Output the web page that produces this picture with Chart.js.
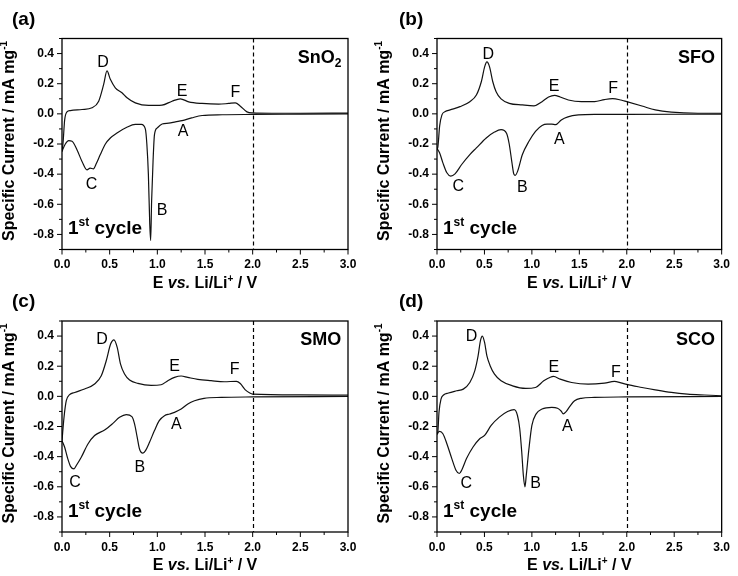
<!DOCTYPE html>
<html>
<head>
<meta charset="utf-8">
<script src="https://cdn.jsdelivr.net/npm/chart.js@4.4.1/dist/chart.umd.min.js"></script>
<style>
  html, body { margin: 0; padding: 0; background: #fff; }
  #wrap { position: relative; width: 738px; height: 576px; overflow: hidden; }
  canvas { position: absolute; }
</style>
</head>
<body>
<div id="wrap">
  <canvas id="pa" width="369" height="290" style="left:0;top:0"></canvas>
  <canvas id="pb" width="369" height="290" style="left:369px;top:0"></canvas>
  <canvas id="pc" width="369" height="286" style="left:0;top:290px"></canvas>
  <canvas id="pd" width="369" height="286" style="left:369px;top:290px"></canvas>
</div>
<script>
// tick labels (shared by all four panels)
var xTicks = [0, 0.5, 1.0, 1.5, 2.0, 2.5, 3.0];
var yTicks = [-0.8, -0.6, -0.4, -0.2, 0.0, 0.2, 0.4];
var cutoffE = 2.0;

// (a) SnO2 - potential (V) and current (mA/mg), each branch sorted by potential
var snoAnodicE = [0.0, 0.01, 0.028, 0.052, 0.087, 0.21, 0.315, 0.385, 0.437, 0.472, 0.507, 0.559, 0.629, 0.682, 0.769, 0.909, 1.049, 1.154, 1.241, 1.329, 1.469, 1.643, 1.748, 1.818, 1.871, 1.94, 2.0, 2.2, 2.5, 3.0];
var snoAnodicI = [-0.25, -0.2, -0.04, 0.013, 0.022, 0.029, 0.04, 0.084, 0.195, 0.285, 0.229, 0.173, 0.14, 0.107, 0.073, 0.056, 0.058, 0.084, 0.1, 0.08, 0.069, 0.064, 0.069, 0.073, 0.051, 0.013, 0.006, 0.004, 0.004, 0.005];
var snoCathodicE = [0.0, 0.007, 0.035, 0.07, 0.105, 0.157, 0.21, 0.262, 0.295, 0.33, 0.36, 0.402, 0.455, 0.507, 0.577, 0.68, 0.769, 0.832, 0.874, 0.89, 0.906, 0.92, 0.93, 0.94, 0.955, 0.97, 1.0, 1.05, 1.12, 1.19, 1.26, 1.36, 1.47, 1.68, 2.0, 2.5, 3.0];
var snoCathodicI = [-0.25, -0.238, -0.2, -0.178, -0.182, -0.238, -0.316, -0.372, -0.36, -0.365, -0.33, -0.27, -0.2, -0.16, -0.127, -0.089, -0.07, -0.07, -0.1, -0.2, -0.4, -0.72, -0.84, -0.58, -0.316, -0.138, -0.093, -0.067, -0.062, -0.053, -0.045, -0.027, -0.011, -0.006, -0.004, -0.002, 0.0];

// (b) SFO
var sfoAnodicE = [0.0, 0.007, 0.028, 0.052, 0.087, 0.138, 0.242, 0.346, 0.415, 0.467, 0.502, 0.526, 0.554, 0.588, 0.623, 0.675, 0.761, 0.9, 1.021, 1.107, 1.176, 1.239, 1.298, 1.384, 1.522, 1.661, 1.765, 1.851, 1.938, 2.0, 2.16, 2.3, 2.47, 2.75, 3.0];
var sfoAnodicI = [-0.23, -0.226, -0.08, -0.007, 0.015, 0.026, 0.048, 0.081, 0.125, 0.213, 0.312, 0.345, 0.312, 0.213, 0.147, 0.099, 0.07, 0.059, 0.053, 0.081, 0.112, 0.123, 0.112, 0.092, 0.081, 0.081, 0.095, 0.101, 0.092, 0.081, 0.052, 0.026, 0.011, 0.004, 0.004];
var sfoCathodicE = [0.0, 0.028, 0.062, 0.104, 0.145, 0.19, 0.26, 0.346, 0.415, 0.519, 0.606, 0.675, 0.734, 0.761, 0.789, 0.81, 0.824, 0.85, 0.9, 0.969, 1.038, 1.107, 1.16, 1.21, 1.25, 1.31, 1.38, 1.49, 1.66, 2.0, 3.0];
var sfoCathodicI = [-0.23, -0.26, -0.325, -0.391, -0.413, -0.398, -0.336, -0.27, -0.226, -0.16, -0.121, -0.105, -0.13, -0.2, -0.32, -0.4, -0.408, -0.38, -0.27, -0.182, -0.116, -0.077, -0.068, -0.068, -0.072, -0.04, -0.02, -0.007, -0.003, -0.003, -0.002];

// (c) SMO
var smoAnodicE = [0.0, 0.021, 0.045, 0.08, 0.133, 0.237, 0.342, 0.412, 0.464, 0.51, 0.545, 0.579, 0.614, 0.656, 0.709, 0.796, 0.935, 1.04, 1.11, 1.18, 1.25, 1.319, 1.424, 1.564, 1.703, 1.83, 1.87, 1.92, 1.97, 2.0, 2.5, 3.0];
var smoAnodicI = [-0.294, -0.14, -0.029, 0.011, 0.026, 0.049, 0.082, 0.137, 0.236, 0.347, 0.375, 0.325, 0.214, 0.148, 0.108, 0.086, 0.073, 0.077, 0.104, 0.126, 0.135, 0.126, 0.113, 0.104, 0.097, 0.1, 0.085, 0.045, 0.022, 0.015, 0.01, 0.008];
var smoCathodicE = [0.0, 0.028, 0.056, 0.091, 0.126, 0.15, 0.202, 0.272, 0.342, 0.447, 0.534, 0.604, 0.674, 0.733, 0.761, 0.789, 0.813, 0.848, 0.876, 0.918, 0.97, 1.02, 1.075, 1.13, 1.18, 1.25, 1.32, 1.39, 1.49, 1.67, 2.0, 3.0];
var smoCathodicI = [-0.294, -0.338, -0.404, -0.466, -0.481, -0.459, -0.404, -0.316, -0.26, -0.223, -0.179, -0.139, -0.121, -0.135, -0.183, -0.272, -0.349, -0.377, -0.36, -0.305, -0.227, -0.161, -0.128, -0.117, -0.106, -0.084, -0.05, -0.029, -0.013, -0.007, -0.004, -0.001];

// (d) SCO
var scoAnodicE = [0.0, 0.007, 0.021, 0.042, 0.069, 0.121, 0.208, 0.277, 0.346, 0.398, 0.433, 0.457, 0.478, 0.502, 0.526, 0.561, 0.606, 0.675, 0.796, 0.934, 1.038, 1.125, 1.194, 1.228, 1.298, 1.419, 1.592, 1.765, 1.869, 1.938, 2.0, 2.16, 2.3, 2.47, 2.64, 2.82, 3.0];
var scoAnodicI = [-0.25, -0.248, -0.105, -0.018, 0.009, 0.022, 0.037, 0.048, 0.092, 0.169, 0.268, 0.367, 0.4, 0.356, 0.268, 0.202, 0.147, 0.103, 0.07, 0.053, 0.059, 0.103, 0.127, 0.132, 0.114, 0.092, 0.081, 0.088, 0.099, 0.09, 0.079, 0.059, 0.043, 0.026, 0.015, 0.009, 0.004];
var scoCathodicE = [0.0, 0.007, 0.028, 0.062, 0.104, 0.156, 0.2, 0.235, 0.26, 0.311, 0.38, 0.45, 0.502, 0.571, 0.657, 0.744, 0.813, 0.848, 0.872, 0.893, 0.91, 0.927, 0.941, 0.969, 1.0, 1.045, 1.107, 1.21, 1.27, 1.31, 1.33, 1.356, 1.4, 1.45, 1.52, 1.66, 2.0, 3.0];
var scoCathodicI = [-0.25, -0.242, -0.233, -0.248, -0.314, -0.413, -0.49, -0.512, -0.49, -0.413, -0.336, -0.281, -0.259, -0.193, -0.138, -0.101, -0.088, -0.127, -0.215, -0.369, -0.523, -0.6, -0.523, -0.347, -0.193, -0.116, -0.084, -0.073, -0.079, -0.099, -0.116, -0.105, -0.066, -0.029, -0.013, -0.007, -0.004, -0.001];

var FONT = '"Liberation Sans", Arial, Helvetica, sans-serif';

function toPoints(xs, ys) {
    return xs.map(function (x, i) { return { x: x, y: ys[i] }; });
}

// draws a run of text pieces (for super/subscripts and italics)
function richText(ctx, parts, x, y, align) {
    var w = 0;
    parts.forEach(function (p) { ctx.font = p.f; w += ctx.measureText(p.t).width; });
    var cx = align === 'center' ? x - w / 2 : (align === 'right' ? x - w : x);
    ctx.textAlign = 'left';
    ctx.textBaseline = 'alphabetic';
    parts.forEach(function (p) {
        ctx.font = p.f;
        ctx.fillText(p.t, cx, y + (p.dy || 0));
        cx += ctx.measureText(p.t).width;
    });
}

var decorPlugin = {
    id: 'decor',
    afterDatasetsDraw: function (chart) {
        var ctx = chart.ctx, a = chart.chartArea;
        var xs = chart.scales.x, ys = chart.scales.y;
        var cfg = chart.options.plugins.decor;
        ctx.save();
        ctx.fillStyle = '#000';
        ctx.strokeStyle = '#000';

        // dashed cut-off line
        ctx.lineWidth = 1.2;
        ctx.setLineDash([4, 3]);
        var xc = Math.round(xs.getPixelForValue(cutoffE)) + 0.5;
        ctx.beginPath();
        ctx.moveTo(xc, a.top);
        ctx.lineTo(xc, a.bottom);
        ctx.stroke();
        ctx.setLineDash([]);

        // frame
        ctx.lineWidth = 1.3;
        ctx.strokeRect(a.left, a.top, a.right - a.left, a.bottom - a.top);

        // outward ticks, major and minor
        ctx.lineWidth = 1;
        ctx.beginPath();
        xTicks.forEach(function (v, i) {
            var px = xs.getPixelForValue(v);
            ctx.moveTo(px, a.bottom);
            ctx.lineTo(px, a.bottom + 5);
            if (i < xTicks.length - 1) {
                var pm = xs.getPixelForValue((v + xTicks[i + 1]) / 2);
                ctx.moveTo(pm, a.bottom);
                ctx.lineTo(pm, a.bottom + 3);
            }
        });
        var yMinor = [yTicks[0] - 0.1].concat(yTicks.map(function (v) { return v + 0.1; }));
        yTicks.forEach(function (v) {
            var py = ys.getPixelForValue(v);
            ctx.moveTo(a.left, py);
            ctx.lineTo(a.left - 5, py);
        });
        yMinor.forEach(function (v) {
            var py = ys.getPixelForValue(v);
            ctx.moveTo(a.left, py);
            ctx.lineTo(a.left - 3, py);
        });
        ctx.stroke();

        // peak letters
        ctx.font = '16px ' + FONT;
        ctx.textAlign = 'center';
        ctx.textBaseline = 'middle';
        cfg.peaks.forEach(function (p) {
            ctx.fillText(p[0], xs.getPixelForValue(p[1]), ys.getPixelForValue(p[2]));
        });

        // "1st cycle"
        richText(ctx, [
            { t: '1', f: 'bold 19px ' + FONT },
            { t: 'st', f: 'bold 12px ' + FONT, dy: -8 },
            { t: ' cycle', f: 'bold 19px ' + FONT }
        ], a.left + 6, ys.getPixelForValue(-0.8), 'left');

        // sample name
        richText(ctx, cfg.sample, xs.getPixelForValue(2.93), ys.getPixelForValue(0.34), 'right');

        // axis titles
        richText(ctx, [
            { t: 'E ', f: 'bold 16px ' + FONT },
            { t: 'vs.', f: 'italic bold 16px ' + FONT },
            { t: ' Li/Li', f: 'bold 16px ' + FONT },
            { t: '+', f: 'bold 10px ' + FONT, dy: -6 },
            { t: ' / V', f: 'bold 16px ' + FONT }
        ], (a.left + a.right) / 2, a.bottom + 38, 'center');

        ctx.save();
        ctx.translate(a.left - 48, (a.top + a.bottom) / 2 - 3);
        ctx.rotate(-Math.PI / 2);
        richText(ctx, [
            { t: 'Specific Current / mA mg', f: 'bold 16px ' + FONT },
            { t: '-1', f: 'bold 10px ' + FONT, dy: -7 }
        ], 0, 0, 'center');
        ctx.restore();

        // panel tag
        ctx.font = 'bold 19px ' + FONT;
        ctx.textAlign = 'left';
        ctx.textBaseline = 'alphabetic';
        ctx.fillText(cfg.tag, cfg.tagX, a.top - 14);
        ctx.restore();
    }
};

function makePanel(id, anodE, anodI, cathE, cathI, opts) {
    var canvas = document.getElementById(id);
    var tickFont = { family: FONT, size: 12, weight: 'bold' };
    return new Chart(canvas, {
        type: 'line',
        data: {
            datasets: [
                { data: toPoints(cathE, cathI) },
                { data: toPoints(anodE, anodI) }
            ]
        },
        options: {
            responsive: false,
            animation: false,
            layout: { padding: { left: 0, right: opts.padRight, top: opts.top, bottom: 0 } },
            elements: {
                point: { radius: 0 },
                line: { borderColor: '#111', borderWidth: 1.2, cubicInterpolationMode: 'monotone', fill: false }
            },
            plugins: {
                legend: { display: false },
                tooltip: { enabled: false },
                decor: opts
            },
            scales: {
                x: {
                    type: 'linear', min: 0, max: 3,
                    grid: { display: false, drawTicks: false },
                    border: { display: false },
                    ticks: { font: tickFont, color: '#000', padding: 8, maxRotation: 0,
                        callback: function (v) { return Number(v).toFixed(1); } },
                    afterBuildTicks: function (s) { s.ticks = xTicks.map(function (v) { return { value: v }; }); },
                    afterFit: function (s) { s.height = canvas.height - opts.bottom; }
                },
                y: {
                    min: -0.9, max: 0.5,
                    grid: { display: false, drawTicks: false },
                    border: { display: false },
                    ticks: { font: tickFont, color: '#000', padding: 8,
                        callback: function (v) { return Number(v).toFixed(1); } },
                    afterBuildTicks: function (s) { s.ticks = yTicks.map(function (v) { return { value: v }; }); },
                    afterFit: function (s) { s.width = opts.left; }
                }
            }
        },
        plugins: [decorPlugin]
    });
}

makePanel('pa', snoAnodicE, snoAnodicI, snoCathodicE, snoCathodicI, {
    left: 62, padRight: 21, top: 38.5, bottom: 249.5, tag: '(a)', tagX: 12,
    sample: [{ t: 'SnO', f: 'bold 18px ' + FONT }, { t: '2', f: 'bold 12px ' + FONT, dy: 4 }],
    peaks: [['D', 0.43, 0.34], ['E', 1.26, 0.15], ['F', 1.82, 0.14], ['A', 1.27, -0.12], ['B', 1.05, -0.64], ['C', 0.31, -0.47]]
});
makePanel('pb', sfoAnodicE, sfoAnodicI, sfoCathodicE, sfoCathodicI, {
    left: 68, padRight: 11, top: 38.5, bottom: 249.5, tag: '(b)', tagX: 30,
    sample: [{ t: 'SFO', f: 'bold 18px ' + FONT }],
    peaks: [['D', 0.54, 0.39], ['E', 1.235, 0.18], ['F', 1.855, 0.167], ['A', 1.29, -0.17], ['B', 0.9, -0.49], ['C', 0.225, -0.484]]
});
makePanel('pc', smoAnodicE, smoAnodicI, smoCathodicE, smoCathodicI, {
    left: 62, padRight: 21, top: 31, bottom: 242, tag: '(c)', tagX: 12,
    sample: [{ t: 'SMO', f: 'bold 18px ' + FONT }],
    peaks: [['D', 0.42, 0.375], ['E', 1.18, 0.2], ['F', 1.81, 0.177], ['A', 1.2, -0.185], ['B', 0.817, -0.475], ['C', 0.136, -0.574]]
});
makePanel('pd', scoAnodicE, scoAnodicI, scoCathodicE, scoCathodicI, {
    left: 68, padRight: 11, top: 31, bottom: 242, tag: '(d)', tagX: 30,
    sample: [{ t: 'SCO', f: 'bold 18px ' + FONT }],
    peaks: [['D', 0.363, 0.398], ['E', 1.232, 0.193], ['F', 1.886, 0.156], ['A', 1.374, -0.198], ['B', 1.038, -0.578], ['C', 0.308, -0.578]]
});
</script>
</body>
</html>
